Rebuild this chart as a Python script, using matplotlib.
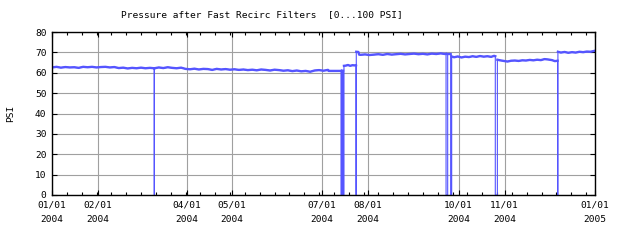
import numpy as np
import pandas as pd
import matplotlib
matplotlib.use("Agg")
import matplotlib.pyplot as plt

# ---- data: days since 2004-01-01 and pressure (PSI) ----
days = [0, 3, 6, 9, 12, 15, 18, 21, 24, 27, 30, 33, 36, 39, 42, 45, 48, 51, 54, 57, 60, 63, 66,
        68.9, 68.9, 69.0, 69.0,
        72, 75, 78, 81, 84, 87, 90, 93, 96, 99, 102, 105, 108, 111, 114, 117, 120, 123, 126, 129,
        132, 135, 138, 141, 144, 147, 150, 153, 156, 159, 162, 165, 168, 171, 174, 177, 180, 183, 186,
        186.5, 194.8, 194.8, 195.5, 195.5, 196.2, 196.2, 196.8, 196.8,
        198, 199.5, 201, 202.5, 204, 204.9, 204.9, 205.1, 205.1, 206.5,
        207, 208, 211, 214, 217, 220, 223, 226, 229, 232, 235, 238, 241, 244, 247, 250, 253, 256, 259, 262, 265,
        265.6, 265.6, 266.7, 266.7, 268.7, 268.7, 269.4, 269.4,
        271, 273.5, 276, 278.5, 281, 283.5, 286, 288.5, 291, 293.5, 296, 298,
        298.8, 298.8, 300.2, 300.2,
        302, 304.5, 307, 309.5, 312, 314.5, 317, 319.5, 322, 324.5, 327, 329.5, 332, 334.5, 337, 339,
        340.8, 340.8, 341.0, 341.0,
        343, 345.5, 348, 350.5, 353, 355.5, 358, 360.5, 363, 365.5, 366]
psi = [62.6, 62.9, 62.5, 62.8, 62.6, 62.7, 62.4, 62.9, 62.7, 62.9, 62.6, 62.8, 62.9, 62.6, 62.8, 62.3, 62.5, 62.1, 62.4, 62.2, 62.5, 62.2, 62.4,
       62.2, 0, 0, 62.2,
       62.6, 62.3, 62.7, 62.4, 62.2, 62.5, 61.9, 61.7, 62.0, 61.6, 61.9, 61.8, 61.4, 61.9, 61.6, 61.8, 61.5, 61.7, 61.4, 61.6,
       61.3, 61.5, 61.2, 61.6, 61.4, 61.1, 61.5, 61.3, 61.0, 61.2, 60.8, 61.1, 60.7, 60.9, 60.5, 61.1, 61.3, 61.0, 61.4,
       60.9, 60.9, 0, 0, 61.0, 61.0, 0, 0, 63.4,
       63.5, 63.8, 63.4, 63.7, 63.6, 63.7, 0, 0, 70.3, 70.2,
       68.9, 68.8, 69.0, 68.7, 68.9, 69.1, 68.8, 69.2, 68.9, 69.1, 69.3, 69.0, 69.2, 69.4, 69.1, 69.3, 69.0, 69.4, 69.2, 69.5, 69.2,
       69.3, 0, 0, 69.2, 69.2, 0, 0, 68.0,
       67.6, 68.0, 67.5, 67.9, 67.7, 68.1, 67.8, 68.2, 67.9, 68.1, 67.8, 68.3,
       68.1, 0, 0, 66.4,
       66.1, 65.8, 65.5, 65.9, 66.0, 65.8, 66.1, 66.0, 66.3, 66.1, 66.4, 66.2, 66.7, 66.5, 66.2, 65.7,
       65.9, 0, 0, 70.3,
       69.9, 70.2, 69.8, 70.1, 69.9, 70.3, 70.1, 70.4, 70.3, 70.7, 70.8]

y_ticks = [0, 10, 20, 30, 40, 50, 60, 70, 80]
x_label_dates = ["2004-01-01", "2004-02-01", "2004-04-01", "2004-05-01", "2004-07-01",
                 "2004-08-01", "2004-10-01", "2004-11-01", "2005-01-01"]

title = "Pressure after Fast Recirc Filters  [0...100 PSI]"
ylabel = "PSI"

# ---- plotting ----
start = pd.Timestamp("2004-01-01")
t = [start + pd.Timedelta(days=d) for d in days]
v = np.array(psi, dtype=float)
band = np.where(v > 1, v, np.nan)

mono = "DejaVu Sans Mono"
fs = 6.8
blue = "#5555ff"

fig = plt.figure(figsize=(6.4, 2.4), dpi=100)
ax = fig.add_axes([52/640, 45/240, 543/640, 163/240])

ax.plot(t, v, color=blue, lw=0.8)
ax.plot(t, band, color=blue, lw=1.7)

ax.set_xlim(start, pd.Timestamp("2005-01-01"))
ax.set_ylim(0, 80)

major = [pd.Timestamp(s) for s in x_label_dates]
ax.set_xticks(major)
ax.set_xticklabels([d.strftime("%m/%d\n%Y") for d in major], family=mono, fontsize=fs,
                   linespacing=1.75)
minor = [start + pd.Timedelta(days=k) for k in range(10, 366, 10)]
ax.set_xticks(minor, minor=True)
ax.set_yticks(y_ticks)
ax.set_yticklabels([str(y) for y in y_ticks], family=mono, fontsize=fs)

ax.grid(True, which="major", color="#a0a0a0", lw=0.8)
ax.set_axisbelow(True)
ax.tick_params(axis="both", which="major", direction="in", length=3.5, width=0.8,
               top=True, right=True, pad=4, colors="black")
ax.tick_params(axis="x", which="minor", direction="in", length=2, width=0.8, top=True)
for s in ax.spines.values():
    s.set_linewidth(1.0)
    s.set_color("black")

ax.set_ylabel(ylabel, family=mono, fontsize=fs, labelpad=14)
fig.text(262/640, 1 - 15/240, title, family=mono, fontsize=fs, ha="center", va="center")

fig.savefig("out.png", dpi=100)
